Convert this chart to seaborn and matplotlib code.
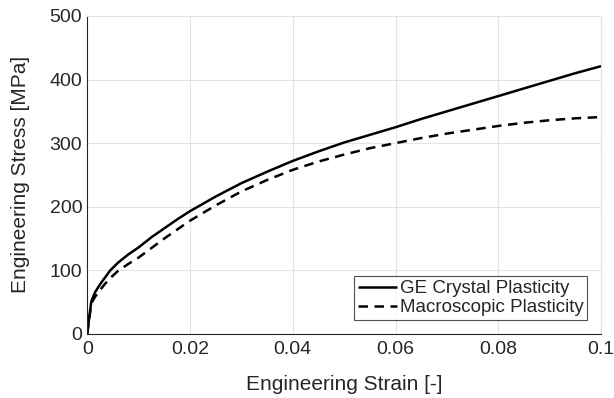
import seaborn as sns
import pandas as pd
import numpy as np
import matplotlib.pyplot as plt

strain = [0, 0.0008, 0.0015, 0.0025, 0.0035, 0.0045, 0.006, 0.008, 0.01, 0.0125,
          0.015, 0.0175, 0.02, 0.025, 0.03, 0.035, 0.04, 0.045, 0.05, 0.055,
          0.06, 0.065, 0.07, 0.075, 0.08, 0.085, 0.09, 0.095, 0.1]
ge_stress = [0, 51, 65, 78, 89, 100, 112, 125, 136, 152,
             166, 180, 193, 216, 237, 255, 272, 287, 301, 313,
             325, 338, 350, 362, 374, 386, 398, 410, 421]
macro_stress = [0, 48, 58, 69, 79, 88, 99, 110, 120, 135,
                150, 164, 178, 202, 224, 242, 258, 271, 282, 292,
                300, 308, 315, 321, 327, 332, 336, 339, 341]

df = pd.DataFrame({"strain": strain * 2,
                   "stress": ge_stress + macro_stress,
                   "model": ["GE Crystal Plasticity"] * len(strain) + ["Macroscopic Plasticity"] * len(strain)})

sns.set_style("white")
plt.rcParams['font.family'] = ['Liberation Sans', 'DejaVu Sans']

fig, ax = plt.subplots(figsize=(6.14, 3.98), dpi=100)
sns.lineplot(data=df, x="strain", y="stress", style="model", color="black",
             linewidth=1.8, ax=ax, dashes=[(1, 0), (3.8, 2.6)], estimator=None, sort=False)

ax.set_xlim(0, 0.1)
ax.set_ylim(0, 500)
ax.set_xticks([0, 0.02, 0.04, 0.06, 0.08, 0.1])
ax.set_xticklabels(["0", "0.02", "0.04", "0.06", "0.08", "0.1"])
ax.set_yticks([0, 100, 200, 300, 400, 500])
ax.grid(True, color="#e3e3e3", linewidth=0.8)
ax.tick_params(direction="in", labelsize=14, colors="#262626", length=4)
ax.tick_params(axis="x", pad=5)
for s in ["top", "right"]:
    ax.spines[s].set_color("#e3e3e3")
for s in ["left", "bottom"]:
    ax.spines[s].set_color("#262626")
ax.set_xlabel("Engineering Strain [-]", fontsize=15, color="#262626", labelpad=12)
ax.set_ylabel("Engineering Stress [MPa]", fontsize=15, color="#262626", labelpad=14)

leg = ax.legend(loc="lower right", bbox_to_anchor=(0.973, 0.044), fontsize=13.5,
                frameon=True, fancybox=False, handlelength=2.1, handletextpad=0.15,
                borderpad=0.2, labelspacing=0.1, borderaxespad=0.0)
leg.get_frame().set_edgecolor("#262626")
leg.get_frame().set_linewidth(0.8)

plt.subplots_adjust(left=0.142, right=0.979, top=0.96, bottom=0.161)
plt.savefig("out.png")
